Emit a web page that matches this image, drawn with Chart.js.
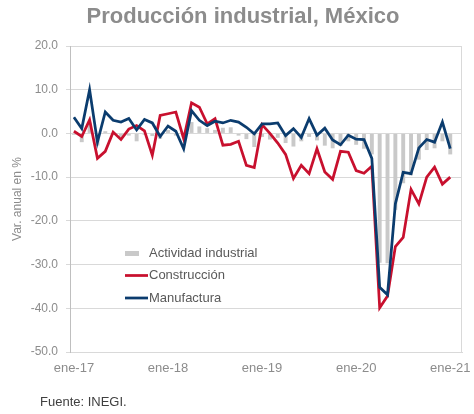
<!DOCTYPE html>
<html>
<head>
<meta charset="utf-8">
<script src="https://cdn.jsdelivr.net/npm/chart.js@4.4.1/dist/chart.umd.min.js"></script>
<style>
  html, body { margin: 0; padding: 0; background: #fff; }
  #wrap { position: relative; width: 474px; height: 414px; overflow: hidden; }
  #titulo { position: absolute; left: 0; width: 486px; top: 3px; text-align: center;
            font: bold 22px/26px "Liberation Sans", Arial, sans-serif; color: #8c8c8c; white-space: nowrap; }
  #fuente { position: absolute; left: 40px; top: 394px; font: 13px "Liberation Sans", Arial, sans-serif; color: #404040; }
</style>
</head>
<body>
<div id="wrap">
  <canvas id="grafica" width="474" height="414"></canvas>
  <div id="titulo">Producción industrial, México</div>
  <div id="fuente">Fuente: INEGI.</div>
</div>
<script>
// Meses (ene-17 a ene-21, más un espacio vacío al final como en el original)
const meses = [
  'ene-17','feb-17','mar-17','abr-17','may-17','jun-17','jul-17','ago-17','sep-17','oct-17','nov-17','dic-17',
  'ene-18','feb-18','mar-18','abr-18','may-18','jun-18','jul-18','ago-18','sep-18','oct-18','nov-18','dic-18',
  'ene-19','feb-19','mar-19','abr-19','may-19','jun-19','jul-19','ago-19','sep-19','oct-19','nov-19','dic-19',
  'ene-20','feb-20','mar-20','abr-20','may-20','jun-20','jul-20','ago-20','sep-20','oct-20','nov-20','dic-20',
  'ene-21','feb-21'
];

// Variación anual en %
const actividadIndustrial = [
  -0.3, -2.0, 2.5, -2.8, 0.5, -0.3, -0.8, -0.5, -1.8, -0.3, -0.6, -1.2,
  0.8, -0.5, -0.8, 2.6, 1.6, 1.2, 0.8, 1.3, 1.4, -0.5, -1.3, -3.1,
  -0.8, -1.4, -1.0, -2.2, -3.0, -1.8, -0.8, -1.6, -2.8, -3.4, -2.9, -1.8,
  -2.6, -3.5, -4.8, -29.6, -29.7, -17.5, -11.4, -9.6, -6.0, -3.8, -3.4, -1.8,
  -4.8, null
];
const construccion = [
  0.5, -0.7, 3.1, -5.7, -4.1, 0.3, -1.4, 1.0, 1.8, 0.6, -5.0, 4.1,
  4.5, 4.9, -1.2, 7.0, 6.0, 2.2, 3.4, -2.7, -2.5, -1.8, -7.3, -7.8,
  2.0, 0.0, -2.2, -4.8, -10.3, -7.3, -9.2, -3.5, -8.8, -10.5, -4.1, -4.3,
  -8.5, -9.1, -7.5, -39.9, -37.2, -25.9, -23.8, -12.8, -16.1, -10.0, -7.7, -11.6,
  -10.0, null
];
const manufactura = [
  3.7, 1.1, 10.0, -2.0, 4.9, 3.0, 2.6, 3.4, 0.8, 3.2, 2.4, -0.7,
  1.7, 0.5, -3.5, 5.2, 3.0, 1.8, 2.8, 2.4, 3.0, 2.6, 1.4, -0.1,
  2.2, 2.2, 2.4, -0.5, 1.1, -0.9, 3.4, -0.4, 1.2, -1.5, -2.6, -0.4,
  -1.3, -1.4, -5.7, -35.2, -36.9, -16.1, -8.9, -9.2, -3.3, -1.4, -2.0, 2.6,
  -3.5, null
];

const FUENTE = '"Liberation Sans", Arial, sans-serif';
const GRIS = '#8c8c8c';

// Leyenda dentro del área de trazado
const leyenda = {
  id: 'leyenda',
  afterDatasetsDraw(chart) {
    const { ctx, chartArea } = chart;
    const x0 = chartArea.left + 55;
    const y0 = chartArea.top + 207;
    ctx.save();
    ctx.font = '13px ' + FUENTE;
    ctx.textBaseline = 'middle';
    chart.data.datasets.forEach((ds, i) => {
      const y = y0 + i * 22.5;
      if (ds.type === 'bar') {
        ctx.fillStyle = ds.backgroundColor;
        ctx.fillRect(x0, y - 2, 14, 5);
      } else {
        ctx.strokeStyle = ds.borderColor;
        ctx.lineWidth = 2.75;
        ctx.beginPath();
        ctx.moveTo(x0, y);
        ctx.lineTo(x0 + 23, y);
        ctx.stroke();
      }
      ctx.fillStyle = '#595959';
      ctx.fillText(ds.label, x0 + 24, y);
    });
    ctx.restore();
  }
};

// Borde derecho del área de trazado
const borde = {
  id: 'borde',
  beforeDatasetsDraw(chart) {
    const { ctx, chartArea } = chart;
    ctx.save();
    ctx.strokeStyle = '#d9d9d9';
    ctx.lineWidth = 1;
    ctx.beginPath();
    ctx.moveTo(chartArea.right - 0.5, chartArea.top);
    ctx.lineTo(chartArea.right - 0.5, chartArea.bottom);
    ctx.stroke();
    ctx.restore();
  }
};

new Chart(document.getElementById('grafica'), {
  data: {
    labels: meses,
    datasets: [
      {
        type: 'bar',
        label: 'Actividad industrial',
        data: actividadIndustrial,
        backgroundColor: '#c9c9c9',
        barPercentage: 0.5,
        categoryPercentage: 1,
        order: 3
      },
      {
        type: 'line',
        label: 'Construcción',
        data: construccion,
        borderColor: '#c8102e',
        borderWidth: 2.75,
        pointRadius: 0,
        tension: 0,
        order: 2
      },
      {
        type: 'line',
        label: 'Manufactura',
        data: manufactura,
        borderColor: '#0b3c6e',
        borderWidth: 2.75,
        pointRadius: 0,
        tension: 0,
        order: 1
      }
    ]
  },
  options: {
    responsive: false,
    animation: false,
    layout: { padding: { left: 0, right: 12, top: 46, bottom: 0 } },
    plugins: {
      legend: { display: false },
      tooltip: { enabled: false },
      title: { display: false }
    },
    scales: {
      x: {
        offset: true,
        grid: { display: false, drawTicks: false },
        border: { color: '#d9d9d9' },
        ticks: {
          autoSkip: false,
          maxRotation: 0,
          padding: 9,
          color: GRIS,
          font: { family: FUENTE, size: 13 },
          callback: (v, i) => (i % 12 === 0 ? meses[i] : '')
        },
        afterFit: s => { s.height = 62; }
      },
      y: {
        min: -50,
        max: 20,
        grid: { color: '#d9d9d9', tickLength: 4 },
        border: { color: '#bfbfbf' },
        ticks: {
          stepSize: 10,
          padding: 8,
          color: GRIS,
          font: { family: FUENTE, size: 12 },
          callback: v => v.toFixed(1)
        },
        title: {
          display: true,
          text: 'Var. anual en %',
          color: GRIS,
          font: { family: FUENTE, size: 12 },
          padding: { top: 10, bottom: 0 }
        },
        afterFit: s => { s.width = 70; }
      }
    }
  },
  plugins: [borde, leyenda]
});
</script>
</body>
</html>
